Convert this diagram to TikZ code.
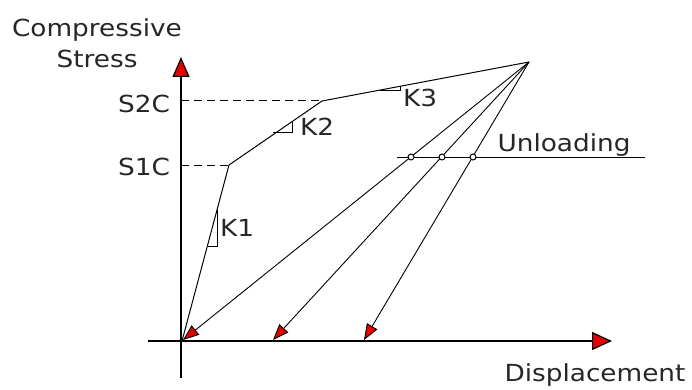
\documentclass[tikz,border=0pt]{standalone}
\usepackage{fontspec}
\setmainfont{DejaVu Sans}[FakeStretch=1.12]
\usetikzlibrary{arrows.meta}
\begin{document}
\begin{tikzpicture}[x=1pt,y=-1pt,
  lbl/.style={font=\fontsize{23.5}{26}\selectfont, text=black!85, inner sep=0pt},
  curve/.style={line width=1pt},
  guide/.style={line width=1pt, dash pattern=on 8pt off 5pt},
  axisline/.style={line width=1.2pt},
  redtip/.style={-{Triangle[length=16pt,width=12pt,fill=red!90!black]}},
  unl/.style={line width=0.9pt, redtip},
  slopemark/.style={line width=1pt},
  dot/.style={circle, draw, line width=1pt, minimum size=6pt, inner sep=0pt, fill=white}
]
\useasboundingbox (0,0) rectangle (692,390);
% key points
\coordinate (O) at (182,341);
\coordinate (A) at (229,165);
\coordinate (B) at (322,101);
\coordinate (P) at (529,62);
\coordinate (U1) at (183,340);
\coordinate (U2) at (273,340);
\coordinate (U3) at (364,340);
\coordinate (XL) at (148,341);
\coordinate (XR) at (612,341);
\coordinate (YB) at (181,378);
\coordinate (YT) at (181,57);
\coordinate (S1) at (181,165);
\coordinate (S2) at (181,101);
\coordinate (UL) at (397,157);
\coordinate (UR) at (645,157);
% axes
\draw[axisline, -{Triangle[length=20pt,width=18pt,fill=red!90!black]}] (XL) -- (XR);
\draw[axisline, -{Triangle[length=20pt,width=17pt,fill=red!90!black]}] (YB) -- (YT);
% guides
\draw[guide] (S1) -- (A);
\draw[guide] (S2) -- (B);
% loading curve
\draw[curve] (O) -- (A) -- (B) -- (P);
% unloading
\draw[unl] (P) -- (U1);
\draw[unl] (P) -- (U2);
\draw[unl] (P) -- (U3);
% unloading line
\draw[line width=1pt] (UL) -- (UR);
\node[dot] (c1) at (411,157) {};
\node[dot] (c2) at (442,157) {};
\node[dot] (c3) at (473,157) {};
% slope marks
\draw[slopemark] (217,210) -- (217,246) -- (208,246);
\draw[slopemark] (292,122) -- (292,133) -- (273,133);
\draw[slopemark] (380,91) -- (400,91) -- (400,86);
% labels
\node[lbl] (tc) at (97,30) {Compressive};
\node[lbl] (ts) at (97,59) {Stress};
\node[lbl] (s2) at (144,104) {S2C};
\node[lbl] (s1) at (144,167) {S1C};
\node[lbl] (k1) at (237,228) {K1};
\node[lbl] (k2) at (317,127) {K2};
\node[lbl] (k3) at (420,98) {K3};
\node[lbl] (un) at (564,145) {Unloading};
\node[lbl] (dp) at (595,375) {Displacement};
\end{tikzpicture}
\end{document}
